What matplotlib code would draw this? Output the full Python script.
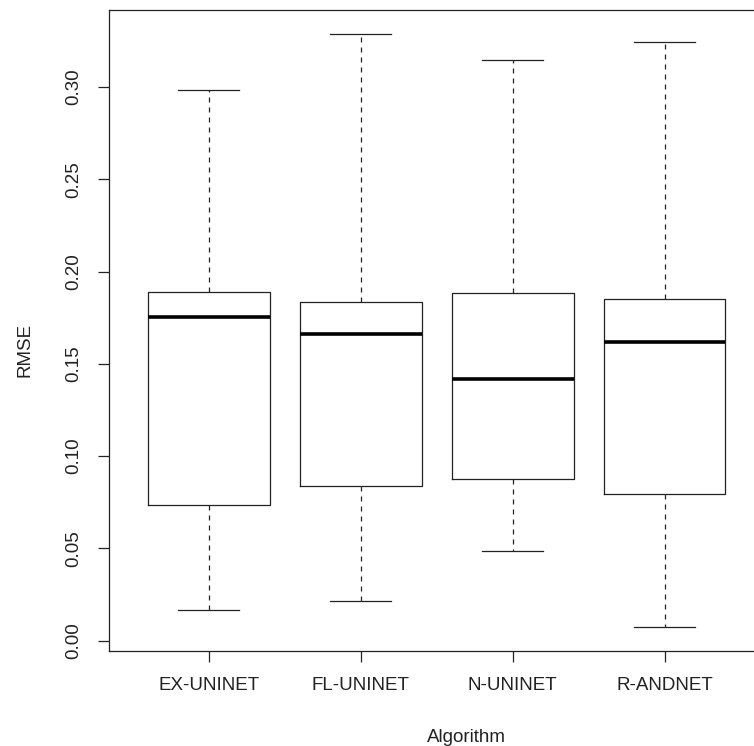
import matplotlib
matplotlib.use("Agg")
import matplotlib.pyplot as plt

plt.rcParams['font.family'] = ['Liberation Sans', 'DejaVu Sans']

algorithms = ['EX-UNINET', 'FL-UNINET', 'N-UNINET', 'R-ANDNET']
whisker_low = [0.0163, 0.0212, 0.0483, 0.0076]
q1 = [0.0733, 0.0836, 0.0874, 0.0792]
median = [0.1753, 0.1660, 0.1416, 0.1617]
q3 = [0.1888, 0.1834, 0.1883, 0.1850]
whisker_high = [0.2984, 0.3288, 0.3147, 0.3245]

stats = []
for i, name in enumerate(algorithms):
    stats.append({'label': name, 'whislo': whisker_low[i], 'q1': q1[i],
                  'med': median[i], 'q3': q3[i], 'whishi': whisker_high[i],
                  'fliers': []})

fig = plt.figure(figsize=(7.54, 7.46), dpi=100)
# right edge of the box goes past the image, as in the original
ax = fig.add_axes([108.5 / 754, 1 - 650.5 / 746, (765 - 108.5) / 754, (650.5 - 10) / 746])

lc = '#222222'
ax.bxp(stats, positions=[1, 2, 3, 4], widths=0.8, capwidths=0.4,
       showfliers=False,
       boxprops=dict(color=lc, linewidth=0.9),
       whiskerprops=dict(color=lc, linewidth=0.9, linestyle=(0, (4, 4))),
       capprops=dict(color=lc, linewidth=0.9),
       medianprops=dict(color='black', linewidth=2.6, solid_capstyle='butt'))

ax.set_xlim(0.34, 4.66)
ax.set_ylim(-0.0054, 0.3418)
ax.set_yticks([0.0, 0.05, 0.10, 0.15, 0.20, 0.25, 0.30])
ax.set_yticklabels(['0.00', '0.05', '0.10', '0.15', '0.20', '0.25', '0.30'],
                   rotation=90, va='center')
ax.set_xticks([1, 2, 3, 4])
ax.set_xticklabels(algorithms)
ax.tick_params(length=8, width=0.9, color=lc, labelsize=13.5, pad=11, labelcolor='#222222')

for s in ax.spines.values():
    s.set_color(lc)
    s.set_linewidth(0.9)

fig.text(466 / 754, 1 - 737 / 746, 'Algorithm', ha='center', va='center', fontsize=13.5, color='#222222')
fig.text(25 / 754, 1 - 350 / 746, 'RMSE', ha='center', va='center', rotation=90, fontsize=13.5, color='#222222')

fig.savefig('out.png', dpi=100)
